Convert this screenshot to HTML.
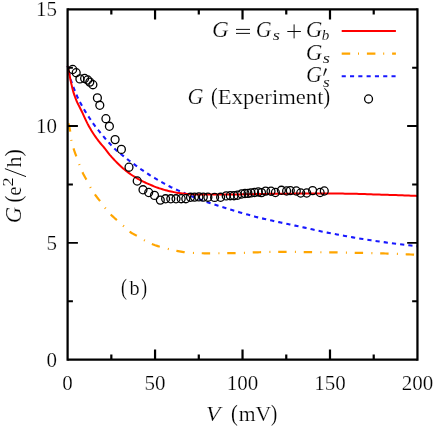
<!DOCTYPE html>
<html><head><meta charset="utf-8"><title>G vs V</title>
<style>html,body{margin:0;padding:0;background:#fff;}svg{display:block;}body{font-family:"Liberation Serif",serif;}</style></head>
<body>
<svg width="436" height="430" viewBox="0 0 436 430">
<rect width="436" height="430" fill="#fff"/>
<g fill="none" stroke-width="2" stroke-linejoin="round">
<path d="M67.60,122.00 L67.65,122.04 L67.75,122.15 L67.88,122.34 L68.04,122.63 L68.23,123.07 L68.45,123.67 L68.68,124.44 L68.94,125.41 L69.22,126.58 L69.52,127.94 L69.83,129.49 L70.17,131.20 L70.52,133.31 L70.88,136.45 L71.27,139.59 L71.67,141.72 L72.08,143.51 L72.51,145.11 L72.95,146.59 L73.41,148.04 L73.88,149.53 L74.37,150.98 L74.87,152.39 L75.38,153.78 L75.90,155.19 L76.44,156.66 L76.99,158.16 L77.55,159.69 L78.13,161.22 L78.72,162.78 L79.31,164.34 L79.92,165.94 L80.55,167.58 L81.18,169.22 L81.82,170.82 L82.48,172.33 L83.15,173.72 L83.83,175.01 L84.51,176.25 L85.21,177.47 L85.92,178.73 L86.64,180.06 L87.37,181.47 L88.11,182.92 L88.87,184.38 L89.63,185.83 L90.40,187.22 L91.18,188.56 L91.97,189.87 L92.77,191.15 L93.58,192.40 L94.40,193.63 L95.23,194.84 L96.07,195.99 L96.92,197.11 L97.77,198.21 L98.64,199.31 L99.52,200.44 L100.40,201.60 L101.30,202.82 L102.20,204.07 L103.11,205.32 L104.03,206.57 L104.96,207.78 L105.90,208.94 L106.85,210.08 L107.80,211.21 L108.77,212.31 L109.74,213.38 L110.72,214.42 L111.71,215.41 L112.71,216.37 L113.72,217.30 L114.73,218.22 L115.75,219.13 L116.79,220.05 L117.83,220.98 L118.87,221.92 L119.93,222.85 L120.99,223.79 L122.06,224.73 L123.14,225.68 L124.23,226.67 L125.33,227.70 L126.43,228.76 L127.54,229.80 L128.66,230.80 L129.79,231.70 L130.92,232.49 L132.07,233.20 L133.22,233.86 L134.37,234.49 L135.54,235.11 L136.71,235.75 L137.89,236.43 L139.08,237.15 L140.27,237.89 L141.48,238.64 L142.69,239.37 L143.90,240.07 L145.13,240.73 L146.36,241.38 L147.60,242.01 L148.84,242.62 L150.10,243.20 L151.36,243.75 L152.63,244.27 L153.90,244.75 L155.18,245.22 L156.47,245.66 L157.77,246.08 L159.07,246.49 L160.38,246.88 L161.70,247.27 L163.02,247.64 L164.35,248.00 L165.69,248.35 L167.04,248.69 L168.39,249.02 L169.75,249.35 L171.11,249.66 L172.49,249.97 L173.86,250.27 L175.25,250.56 L176.64,250.83 L178.04,251.10 L179.45,251.35 L180.86,251.60 L182.28,251.84 L183.70,252.05 L185.14,252.23 L186.58,252.39 L188.02,252.55 L189.47,252.69 L190.93,252.82 L192.40,252.92 L193.87,253.00 L195.35,253.06 L196.83,253.11 L198.32,253.16 L199.82,253.21 L201.32,253.24 L202.83,253.27 L204.35,253.29 L205.87,253.30 L207.40,253.30 L208.93,253.30 L210.48,253.30 L212.02,253.29 L213.58,253.29 L215.14,253.28 L216.70,253.28 L218.28,253.27 L219.86,253.27 L221.44,253.26 L223.03,253.25 L224.63,253.24 L226.23,253.23 L227.84,253.22 L229.46,253.21 L231.08,253.20 L232.71,253.18 L234.34,253.15 L235.98,253.11 L237.63,253.06 L239.28,253.00 L240.94,252.94 L242.60,252.87 L244.27,252.80 L245.94,252.72 L247.63,252.65 L249.31,252.57 L251.01,252.50 L252.71,252.44 L254.41,252.38 L256.12,252.32 L257.84,252.28 L259.56,252.23 L261.29,252.19 L263.02,252.14 L264.76,252.10 L266.51,252.05 L268.26,252.01 L270.02,251.97 L271.78,251.93 L273.55,251.90 L275.32,251.87 L277.10,251.84 L278.89,251.82 L280.68,251.81 L282.48,251.80 L284.28,251.80 L286.09,251.81 L287.90,251.82 L289.72,251.84 L291.55,251.86 L293.38,251.88 L295.22,251.91 L297.06,251.94 L298.91,251.97 L300.76,252.00 L302.62,252.03 L304.48,252.05 L306.35,252.08 L308.23,252.10 L310.11,252.12 L312.00,252.15 L313.89,252.17 L315.78,252.19 L317.69,252.21 L319.60,252.23 L321.51,252.25 L323.43,252.27 L325.35,252.29 L327.28,252.31 L329.22,252.34 L331.16,252.36 L333.10,252.39 L335.06,252.42 L337.01,252.45 L338.97,252.48 L340.94,252.51 L342.91,252.55 L344.89,252.59 L346.88,252.63 L348.86,252.67 L350.86,252.71 L352.86,252.75 L354.86,252.79 L356.87,252.83 L358.89,252.88 L360.91,252.92 L362.93,252.96 L364.96,253.00 L367.00,253.04 L369.04,253.09 L371.09,253.13 L373.14,253.18 L375.19,253.22 L377.26,253.27 L379.32,253.32 L381.39,253.37 L383.47,253.43 L385.55,253.49 L387.64,253.55 L389.73,253.62 L391.83,253.69 L393.93,253.76 L396.04,253.84 L398.16,253.92 L400.27,254.00 L402.40,254.09 L404.52,254.18 L406.66,254.28 L408.80,254.38 L410.94,254.48 L413.09,254.58 L415.24,254.69 L417.40,254.80" stroke="#ffa500" stroke-dasharray="8.4 8.3 1 7.8" stroke-dashoffset="-1.64" stroke-width="2.2"/>
<path d="M67.60,66.00 L67.65,66.24 L67.75,66.72 L67.88,67.37 L68.04,68.15 L68.23,69.05 L68.45,70.05 L68.68,71.13 L68.94,72.28 L69.22,73.48 L69.52,74.75 L69.83,76.08 L70.17,77.43 L70.52,78.75 L70.88,80.02 L71.27,81.23 L71.67,82.42 L72.08,83.60 L72.51,84.78 L72.95,85.98 L73.41,87.17 L73.88,88.35 L74.37,89.55 L74.87,90.77 L75.38,92.04 L75.90,93.35 L76.44,94.67 L76.99,95.98 L77.55,97.24 L78.13,98.45 L78.72,99.64 L79.31,100.81 L79.92,101.99 L80.55,103.17 L81.18,104.36 L81.82,105.54 L82.48,106.72 L83.15,107.89 L83.83,109.05 L84.51,110.20 L85.21,111.34 L85.92,112.47 L86.64,113.61 L87.37,114.75 L88.11,115.90 L88.87,117.07 L89.63,118.24 L90.40,119.42 L91.18,120.59 L91.97,121.76 L92.77,122.92 L93.58,124.05 L94.40,125.16 L95.23,126.26 L96.07,127.34 L96.92,128.42 L97.77,129.50 L98.64,130.58 L99.52,131.67 L100.40,132.77 L101.30,133.87 L102.20,134.97 L103.11,136.06 L104.03,137.16 L104.96,138.24 L105.90,139.32 L106.85,140.38 L107.80,141.44 L108.77,142.50 L109.74,143.55 L110.72,144.61 L111.71,145.68 L112.71,146.76 L113.72,147.83 L114.73,148.86 L115.75,149.83 L116.79,150.75 L117.83,151.63 L118.87,152.48 L119.93,153.31 L120.99,154.14 L122.06,154.97 L123.14,155.82 L124.23,156.69 L125.33,157.58 L126.43,158.48 L127.54,159.37 L128.66,160.25 L129.79,161.11 L130.92,161.95 L132.07,162.80 L133.22,163.63 L134.37,164.47 L135.54,165.30 L136.71,166.14 L137.89,166.98 L139.08,167.83 L140.27,168.68 L141.48,169.53 L142.69,170.38 L143.90,171.23 L145.13,172.06 L146.36,172.89 L147.60,173.70 L148.84,174.49 L150.10,175.27 L151.36,176.05 L152.63,176.81 L153.90,177.57 L155.18,178.32 L156.47,179.07 L157.77,179.82 L159.07,180.57 L160.38,181.32 L161.70,182.08 L163.02,182.84 L164.35,183.60 L165.69,184.35 L167.04,185.09 L168.39,185.81 L169.75,186.52 L171.11,187.21 L172.49,187.87 L173.86,188.51 L175.25,189.14 L176.64,189.76 L178.04,190.37 L179.45,190.98 L180.86,191.59 L182.28,192.20 L183.70,192.83 L185.14,193.46 L186.58,194.09 L188.02,194.72 L189.47,195.35 L190.93,195.97 L192.40,196.59 L193.87,197.19 L195.35,197.77 L196.83,198.36 L198.32,198.93 L199.82,199.50 L201.32,200.06 L202.83,200.61 L204.35,201.16 L205.87,201.70 L207.40,202.23 L208.93,202.75 L210.48,203.26 L212.02,203.76 L213.58,204.26 L215.14,204.75 L216.70,205.23 L218.28,205.72 L219.86,206.20 L221.44,206.69 L223.03,207.18 L224.63,207.68 L226.23,208.19 L227.84,208.71 L229.46,209.22 L231.08,209.73 L232.71,210.23 L234.34,210.73 L235.98,211.22 L237.63,211.72 L239.28,212.21 L240.94,212.69 L242.60,213.18 L244.27,213.66 L245.94,214.14 L247.63,214.61 L249.31,215.08 L251.01,215.55 L252.71,216.01 L254.41,216.47 L256.12,216.92 L257.84,217.36 L259.56,217.79 L261.29,218.20 L263.02,218.61 L264.76,219.01 L266.51,219.40 L268.26,219.79 L270.02,220.18 L271.78,220.57 L273.55,220.96 L275.32,221.35 L277.10,221.73 L278.89,222.11 L280.68,222.50 L282.48,222.88 L284.28,223.27 L286.09,223.65 L287.90,224.05 L289.72,224.44 L291.55,224.83 L293.38,225.23 L295.22,225.62 L297.06,226.02 L298.91,226.42 L300.76,226.83 L302.62,227.23 L304.48,227.64 L306.35,228.06 L308.23,228.48 L310.11,228.91 L312.00,229.35 L313.89,229.79 L315.78,230.22 L317.69,230.65 L319.60,231.07 L321.51,231.48 L323.43,231.87 L325.35,232.25 L327.28,232.63 L329.22,233.00 L331.16,233.36 L333.10,233.73 L335.06,234.09 L337.01,234.45 L338.97,234.81 L340.94,235.18 L342.91,235.55 L344.89,235.92 L346.88,236.29 L348.86,236.66 L350.86,237.02 L352.86,237.37 L354.86,237.71 L356.87,238.05 L358.89,238.38 L360.91,238.71 L362.93,239.04 L364.96,239.36 L367.00,239.69 L369.04,240.00 L371.09,240.32 L373.14,240.63 L375.19,240.93 L377.26,241.24 L379.32,241.53 L381.39,241.83 L383.47,242.12 L385.55,242.40 L387.64,242.68 L389.73,242.95 L391.83,243.23 L393.93,243.50 L396.04,243.76 L398.16,244.02 L400.27,244.28 L402.40,244.54 L404.52,244.79 L406.66,245.03 L408.80,245.28 L410.94,245.51 L413.09,245.75 L415.24,245.98 L417.40,246.20" stroke="#1818ff" stroke-dasharray="4.2 4.065" stroke-dashoffset="-5.25" stroke-width="2.1"/>
<path d="M67.60,66.00 L67.65,66.19 L67.75,66.59 L67.88,67.14 L68.04,67.83 L68.23,68.65 L68.45,69.60 L68.68,70.67 L68.94,71.88 L69.22,73.21 L69.52,74.70 L69.83,76.40 L70.17,78.21 L70.52,79.96 L70.88,81.68 L71.27,83.41 L71.67,85.15 L72.08,86.96 L72.51,88.80 L72.95,90.56 L73.41,92.17 L73.88,93.68 L74.37,95.13 L74.87,96.54 L75.38,97.90 L75.90,99.23 L76.44,100.53 L76.99,101.79 L77.55,103.03 L78.13,104.24 L78.72,105.41 L79.31,106.57 L79.92,107.76 L80.55,108.99 L81.18,110.25 L81.82,111.55 L82.48,112.91 L83.15,114.34 L83.83,115.82 L84.51,117.34 L85.21,118.88 L85.92,120.41 L86.64,121.91 L87.37,123.37 L88.11,124.77 L88.87,126.14 L89.63,127.50 L90.40,128.84 L91.18,130.15 L91.97,131.45 L92.77,132.72 L93.58,133.98 L94.40,135.20 L95.23,136.41 L96.07,137.60 L96.92,138.76 L97.77,139.91 L98.64,141.05 L99.52,142.18 L100.40,143.27 L101.30,144.33 L102.20,145.38 L103.11,146.43 L104.03,147.51 L104.96,148.63 L105.90,149.81 L106.85,151.06 L107.80,152.33 L108.77,153.58 L109.74,154.79 L110.72,155.94 L111.71,157.07 L112.71,158.18 L113.72,159.27 L114.73,160.35 L115.75,161.41 L116.79,162.46 L117.83,163.49 L118.87,164.50 L119.93,165.49 L120.99,166.47 L122.06,167.44 L123.14,168.39 L124.23,169.33 L125.33,170.25 L126.43,171.14 L127.54,172.01 L128.66,172.85 L129.79,173.66 L130.92,174.45 L132.07,175.22 L133.22,175.98 L134.37,176.71 L135.54,177.43 L136.71,178.12 L137.89,178.79 L139.08,179.45 L140.27,180.09 L141.48,180.70 L142.69,181.31 L143.90,181.90 L145.13,182.48 L146.36,183.04 L147.60,183.60 L148.84,184.15 L150.10,184.70 L151.36,185.25 L152.63,185.78 L153.90,186.31 L155.18,186.82 L156.47,187.31 L157.77,187.78 L159.07,188.23 L160.38,188.65 L161.70,189.06 L163.02,189.47 L164.35,189.86 L165.69,190.23 L167.04,190.59 L168.39,190.93 L169.75,191.25 L171.11,191.55 L172.49,191.83 L173.86,192.12 L175.25,192.39 L176.64,192.65 L178.04,192.89 L179.45,193.11 L180.86,193.31 L182.28,193.48 L183.70,193.62 L185.14,193.76 L186.58,193.90 L188.02,194.03 L189.47,194.14 L190.93,194.24 L192.40,194.32 L193.87,194.38 L195.35,194.40 L196.83,194.42 L198.32,194.44 L199.82,194.46 L201.32,194.48 L202.83,194.49 L204.35,194.51 L205.87,194.52 L207.40,194.53 L208.93,194.54 L210.48,194.55 L212.02,194.56 L213.58,194.57 L215.14,194.58 L216.70,194.59 L218.28,194.59 L219.86,194.59 L221.44,194.60 L223.03,194.60 L224.63,194.60 L226.23,194.60 L227.84,194.59 L229.46,194.58 L231.08,194.56 L232.71,194.54 L234.34,194.52 L235.98,194.49 L237.63,194.46 L239.28,194.43 L240.94,194.39 L242.60,194.35 L244.27,194.32 L245.94,194.28 L247.63,194.24 L249.31,194.20 L251.01,194.16 L252.71,194.13 L254.41,194.09 L256.12,194.06 L257.84,194.03 L259.56,194.01 L261.29,193.98 L263.02,193.96 L264.76,193.94 L266.51,193.91 L268.26,193.89 L270.02,193.87 L271.78,193.84 L273.55,193.82 L275.32,193.79 L277.10,193.77 L278.89,193.75 L280.68,193.73 L282.48,193.71 L284.28,193.69 L286.09,193.67 L287.90,193.66 L289.72,193.64 L291.55,193.63 L293.38,193.62 L295.22,193.61 L297.06,193.60 L298.91,193.60 L300.76,193.60 L302.62,193.60 L304.48,193.60 L306.35,193.60 L308.23,193.60 L310.11,193.60 L312.00,193.60 L313.89,193.60 L315.78,193.60 L317.69,193.60 L319.60,193.60 L321.51,193.60 L323.43,193.60 L325.35,193.60 L327.28,193.60 L329.22,193.60 L331.16,193.60 L333.10,193.60 L335.06,193.60 L337.01,193.60 L338.97,193.60 L340.94,193.60 L342.91,193.61 L344.89,193.63 L346.88,193.65 L348.86,193.68 L350.86,193.72 L352.86,193.76 L354.86,193.81 L356.87,193.86 L358.89,193.92 L360.91,193.98 L362.93,194.05 L364.96,194.11 L367.00,194.18 L369.04,194.25 L371.09,194.32 L373.14,194.38 L375.19,194.45 L377.26,194.52 L379.32,194.58 L381.39,194.64 L383.47,194.70 L385.55,194.77 L387.64,194.83 L389.73,194.90 L391.83,194.97 L393.93,195.04 L396.04,195.11 L398.16,195.18 L400.27,195.26 L402.40,195.33 L404.52,195.41 L406.66,195.49 L408.80,195.57 L410.94,195.65 L413.09,195.73 L415.24,195.82 L417.40,195.90" stroke="#ff0000"/>
</g>
<g fill="none" stroke="#000" stroke-width="1.3">
<ellipse cx="72.7" cy="69.5" rx="3.95" ry="4.05"/>
<ellipse cx="76.2" cy="72.7" rx="3.95" ry="4.05"/>
<ellipse cx="79.9" cy="78.9" rx="3.95" ry="4.05"/>
<ellipse cx="84.6" cy="78.5" rx="3.95" ry="4.05"/>
<ellipse cx="87.7" cy="80.0" rx="3.95" ry="4.05"/>
<ellipse cx="89.8" cy="82.1" rx="3.95" ry="4.05"/>
<ellipse cx="92.9" cy="84.7" rx="3.95" ry="4.05"/>
<ellipse cx="97.4" cy="97.9" rx="3.95" ry="4.05"/>
<ellipse cx="99.8" cy="105.3" rx="3.95" ry="4.05"/>
<ellipse cx="105.9" cy="118.7" rx="3.95" ry="4.05"/>
<ellipse cx="109.4" cy="126.3" rx="3.95" ry="4.05"/>
<ellipse cx="115.1" cy="139.6" rx="3.95" ry="4.05"/>
<ellipse cx="121.4" cy="149.4" rx="3.95" ry="4.05"/>
<ellipse cx="129.0" cy="167.2" rx="3.95" ry="4.05"/>
<ellipse cx="137.2" cy="181.0" rx="3.95" ry="4.05"/>
<ellipse cx="143.0" cy="189.8" rx="3.95" ry="4.05"/>
<ellipse cx="148.7" cy="192.5" rx="3.95" ry="4.05"/>
<ellipse cx="154.5" cy="195.4" rx="3.95" ry="4.05"/>
<ellipse cx="160.3" cy="200.1" rx="3.95" ry="4.05"/>
<ellipse cx="165.6" cy="198.8" rx="3.95" ry="4.05"/>
<ellipse cx="170.8" cy="198.8" rx="3.95" ry="4.05"/>
<ellipse cx="176.0" cy="198.8" rx="3.95" ry="4.05"/>
<ellipse cx="181.2" cy="198.7" rx="3.95" ry="4.05"/>
<ellipse cx="185.8" cy="198.7" rx="3.95" ry="4.05"/>
<ellipse cx="190.5" cy="197.3" rx="3.95" ry="4.05"/>
<ellipse cx="194.5" cy="197.1" rx="3.95" ry="4.05"/>
<ellipse cx="198.9" cy="196.9" rx="3.95" ry="4.05"/>
<ellipse cx="203.3" cy="197.1" rx="3.95" ry="4.05"/>
<ellipse cx="207.9" cy="197.2" rx="3.95" ry="4.05"/>
<ellipse cx="214.6" cy="197.4" rx="3.95" ry="4.05"/>
<ellipse cx="220.6" cy="197.3" rx="3.95" ry="4.05"/>
<ellipse cx="226.2" cy="195.9" rx="3.95" ry="4.05"/>
<ellipse cx="230.3" cy="195.7" rx="3.95" ry="4.05"/>
<ellipse cx="234.0" cy="195.7" rx="3.95" ry="4.05"/>
<ellipse cx="237.5" cy="195.2" rx="3.95" ry="4.05"/>
<ellipse cx="241.6" cy="194.0" rx="3.95" ry="4.05"/>
<ellipse cx="245.0" cy="193.5" rx="3.95" ry="4.05"/>
<ellipse cx="248.0" cy="193.4" rx="3.95" ry="4.05"/>
<ellipse cx="251.0" cy="192.9" rx="3.95" ry="4.05"/>
<ellipse cx="254.6" cy="192.5" rx="3.95" ry="4.05"/>
<ellipse cx="258.3" cy="192.0" rx="3.95" ry="4.05"/>
<ellipse cx="261.5" cy="192.6" rx="3.95" ry="4.05"/>
<ellipse cx="265.6" cy="191.1" rx="3.95" ry="4.05"/>
<ellipse cx="271.0" cy="191.2" rx="3.95" ry="4.05"/>
<ellipse cx="275.4" cy="192.5" rx="3.95" ry="4.05"/>
<ellipse cx="281.4" cy="190.3" rx="3.95" ry="4.05"/>
<ellipse cx="286.6" cy="191.0" rx="3.95" ry="4.05"/>
<ellipse cx="290.3" cy="190.6" rx="3.95" ry="4.05"/>
<ellipse cx="296.3" cy="191.0" rx="3.95" ry="4.05"/>
<ellipse cx="300.7" cy="193.0" rx="3.95" ry="4.05"/>
<ellipse cx="306.7" cy="193.0" rx="3.95" ry="4.05"/>
<ellipse cx="312.6" cy="190.6" rx="3.95" ry="4.05"/>
<ellipse cx="320.1" cy="192.5" rx="3.95" ry="4.05"/>
<ellipse cx="324.3" cy="191.0" rx="3.95" ry="4.05"/>
<ellipse cx="368.55" cy="98.95" rx="3.95" ry="4.05"/>
</g>
<g fill="none" stroke-width="2">
<path d="M341.7,31.1H395.9" stroke="#ff0000"/>
<path d="M341.7,53.7H395.9" stroke="#ffa500" stroke-dasharray="8.5 7.8 1 7.9" stroke-width="2.2"/>
<path d="M341.7,76.2H395.9" stroke="#1818ff" stroke-dasharray="4.1 4.2"/>
</g>
<path d="M111.33,359.65v-5.2M111.33,9.3v5.2M155.06,359.65v-10.2M155.06,9.3v10.2M198.79,359.65v-5.2M198.79,9.3v5.2M242.53,359.65v-10.2M242.53,9.3v10.2M286.26,359.65v-5.2M286.26,9.3v5.2M329.99,359.65v-10.2M329.99,9.3v10.2M373.72,359.65v-5.2M373.72,9.3v5.2" stroke="#000" stroke-width="2.2" fill="none"/>
<path d="M67.6,301.26h5.3M417.45,301.26h-5.3M67.6,242.87h10.3M417.45,242.87h-10.3M67.6,184.47h5.3M417.45,184.47h-5.3M67.6,126.08h10.3M417.45,126.08h-10.3M67.6,67.69h5.3M417.45,67.69h-5.3" stroke="#000" stroke-width="1.95" fill="none"/>
<path d="M67.6,9.3H417.45M67.6,359.65H417.45" fill="none" stroke="#000" stroke-width="2.2"/>
<path d="M67.6,8.3V360.65M417.45,8.3V360.65" fill="none" stroke="#000" stroke-width="2.25"/>
<g font-family="'Liberation Serif', serif" font-size="21" fill="#000" opacity="0.999" stroke="#fff" stroke-width="0.22">
<text x="56.9" y="366.75" text-anchor="end">0</text>
<text x="56.9" y="249.97" text-anchor="end">5</text>
<text x="56.9" y="133.18" text-anchor="end">10</text>
<text x="56.9" y="16.40" text-anchor="end">15</text>
<text x="67.6" y="389.5" text-anchor="middle">0</text>
<text x="155.1" y="389.5" text-anchor="middle">50</text>
<text x="242.5" y="389.5" text-anchor="middle">100</text>
<text x="330.0" y="389.5" text-anchor="middle">150</text>
<text x="417.5" y="389.5" text-anchor="middle">200</text>
<text transform="translate(206.07,421.40) scale(1.120,1.000)" font-size="21" font-style="italic">V</text>
<text transform="translate(230.88,421.40) scale(0.971,1.10)" font-size="21" stroke-width="0.1">(</text>
<text transform="translate(238.67,421.40) scale(1.032,1.000)" font-size="21">mV</text>
<text transform="translate(271.09,421.40) scale(0.888,1.10)" font-size="21" stroke-width="0.1">)</text>
<g transform="translate(0,222) rotate(-90)">
<text transform="translate(-1.24,20.70) scale(1.078,1.080)" font-size="21" font-style="italic">G</text>
<text transform="translate(19.38,20.70) scale(0.971,1.10)" font-size="21" stroke-width="0.1">(</text>
<text transform="translate(26.37,20.70) scale(0.991,1.000)" font-size="21">e</text>
<text transform="translate(35.58,12.80) scale(1.304,1.000)" font-size="14" stroke-width="0.08">2</text>
<path d="M45.4,26L53.4,4.9" stroke="#000" stroke-width="0.95" fill="none"/>
<text transform="translate(54.58,20.70) scale(1.047,1.000)" font-size="21">h</text>
<text transform="translate(65.58,20.70) scale(1.054,1.10)" font-size="21" stroke-width="0.1">)</text>
</g>
<text transform="translate(121.01,295.20) scale(0.840,1.10)" font-size="21" stroke-width="0.1">(</text>
<text transform="translate(129.60,295.20) scale(0.968,1.028)" font-size="21">b</text>
<text transform="translate(141.13,295.20) scale(0.832,1.10)" font-size="21" stroke-width="0.1">)</text>
<text transform="translate(212.02,36.60) scale(1.107,1.080)" font-size="21" font-style="italic">G</text>
<path d="M236,29.4H250M236,33.4H250" stroke="#000" stroke-width="0.95" fill="none"/>
<text transform="translate(255.79,36.60) scale(1.048,1.080)" font-size="21" font-style="italic">G</text>
<text transform="translate(272.77,39.60) scale(1.325,1.000)" font-size="14" font-style="italic" stroke-width="0.08">s</text>
<path d="M287.3,31.5H300.9M294.1,24.4V38.4" stroke="#000" stroke-width="0.95" fill="none"/>
<text transform="translate(305.73,36.60) scale(1.100,1.080)" font-size="21" font-style="italic">G</text>
<text transform="translate(321.64,39.80) scale(1.073,1.100)" font-size="14" font-style="italic" stroke-width="0.08">b</text>
<text transform="translate(305.73,59.50) scale(1.100,1.080)" font-size="21" font-style="italic">G</text>
<text transform="translate(322.77,62.50) scale(1.325,1.000)" font-size="14" font-style="italic" stroke-width="0.08">s</text>
<text transform="translate(305.98,81.50) scale(1.056,1.080)" font-size="21" font-style="italic">G</text>
<path d="M325.3,68.1L327.1,68.9L324.0,76.0L323.1,75.6Z" fill="#000"/>
<text transform="translate(322.98,86.60) scale(1.242,1.000)" font-size="14" font-style="italic" stroke-width="0.08">s</text>
<text transform="translate(187.38,104.40) scale(1.056,1.080)" font-size="21" font-style="italic">G</text>
<text transform="translate(211.00,104.40) scale(0.952,1.10)" font-size="21" stroke-width="0.1">(</text>
<text transform="translate(217.82,104.40) scale(1.079,1.000)" font-size="21">Experiment</text>
<text transform="translate(323.46,104.40) scale(0.943,1.10)" font-size="21" stroke-width="0.1">)</text>
</g>
</svg>
</body></html>
